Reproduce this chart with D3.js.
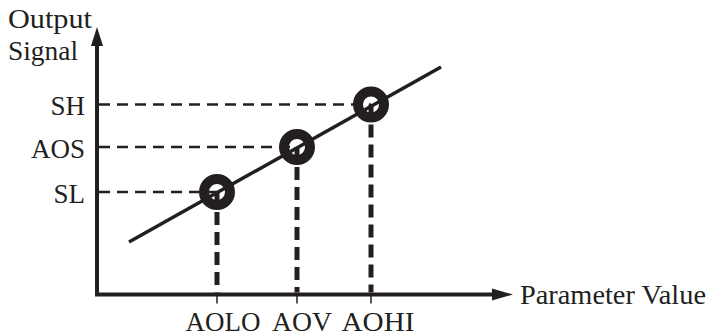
<!DOCTYPE html>
<html>
<head>
<meta charset="utf-8">
<script src="https://cdn.jsdelivr.net/npm/d3@7"></script>
<style>
  html, body { margin: 0; padding: 0; background: #fff; }
  svg { display: block; }
  text { font-family: "Liberation Serif", "Times New Roman", serif; fill: #231f20; }
</style>
</head>
<body>
<div id="chart"></div>
<script>
// set points on the parameter axis and output axis
const xLabels = ["AOLO", "AOV", "AOHI"];
const xValues = [30, 50, 68.5];
const yLabels = ["SL", "AOS", "SH"];
const yValues = [41, 59, 76];

// the straight response line (two ends)
const lineX = [8, 86];
const lineY = [21, 91];

const xTitle = "Parameter Value";
const yTitle = ["Output", "Signal"];

const width = 708;
const height = 336;
const ink = "#231f20";

const svg = d3
  .select("#chart")
  .append("svg")
  .attr("width", width)
  .attr("height", height);

const xScale = d3.scaleLinear().domain([0, 100]).range([97, 497]);
const yScale = d3.scaleLinear().domain([0, 100]).range([294.5, 44.5]);

const x0 = xScale(0);
const y0 = yScale(0);
const xEnd = xScale(104); // arrow tip
const yEnd = yScale(107); // arrow tip

// axes with arrow heads
svg
  .append("path")
  .attr("d", `M${x0},${yEnd + 16} V${y0} H${xEnd - 18}`)
  .attr("fill", "none")
  .attr("stroke", ink)
  .attr("stroke-width", 4)
  .attr("stroke-linejoin", "miter");

svg
  .append("path")
  .attr("d", `M${x0},${yEnd} L${x0 + 6},${yEnd + 19} L${x0 - 6},${yEnd + 19} Z`)
  .attr("fill", ink);

svg
  .append("path")
  .attr("d", `M${xEnd},${y0} L${xEnd - 21},${y0 - 6} L${xEnd - 21},${y0 + 6} Z`)
  .attr("fill", ink);

// small ticks under the x axis
svg
  .append("g")
  .selectAll("line")
  .data(xValues)
  .join("line")
  .attr("x1", (d) => xScale(d))
  .attr("x2", (d) => xScale(d))
  .attr("y1", y0)
  .attr("y2", y0 + 9)
  .attr("stroke", ink)
  .attr("stroke-width", 1.5);

// horizontal dashed guides
svg
  .append("g")
  .selectAll("line")
  .data(yValues)
  .join("line")
  .attr("x1", x0 + 2)
  .attr("x2", (d, i) => xScale(xValues[i]))
  .attr("y1", (d) => yScale(d))
  .attr("y2", (d) => yScale(d))
  .attr("stroke", ink)
  .attr("stroke-width", 2.5)
  .attr("stroke-dasharray", "11,7");

// vertical dashed guides
svg
  .append("g")
  .selectAll("line")
  .data(xValues)
  .join("line")
  .attr("x1", (d) => xScale(d))
  .attr("x2", (d) => xScale(d))
  .attr("y1", (d, i) => yScale(yValues[i]))
  .attr("y2", y0 - 2)
  .attr("stroke", ink)
  .attr("stroke-width", 5)
  .attr("stroke-dasharray", "13,7");

// response line
svg
  .append("line")
  .attr("x1", xScale(lineX[0]))
  .attr("y1", yScale(lineY[0]))
  .attr("x2", xScale(lineX[1]))
  .attr("y2", yScale(lineY[1]))
  .attr("stroke", ink)
  .attr("stroke-width", 3.5);

// ring markers
svg
  .append("g")
  .selectAll("circle")
  .data(xValues)
  .join("circle")
  .attr("cx", (d) => xScale(d))
  .attr("cy", (d, i) => yScale(yValues[i]))
  .attr("r", 13)
  .attr("fill", "none")
  .attr("stroke", ink)
  .attr("stroke-width", 10);

// labels
const fontSize = 27;
const xLabelWidths = [75, 60, 73];
const xLabelShift = [6, 5, 7];

svg
  .append("g")
  .selectAll("text")
  .data(xLabels)
  .join("text")
  .attr("x", (d, i) => xScale(xValues[i]) + xLabelShift[i])
  .attr("y", 331)
  .attr("text-anchor", "middle")
  .attr("font-size", fontSize)
  .attr("textLength", (d, i) => xLabelWidths[i])
  .attr("lengthAdjust", "spacingAndGlyphs")
  .text((d) => d);

svg
  .append("g")
  .selectAll("text")
  .data(yLabels)
  .join("text")
  .attr("x", 85)
  .attr("y", (d, i) => yScale(yValues[i]) + 10.5)
  .attr("text-anchor", "end")
  .attr("font-size", fontSize)
  .text((d) => d);

svg
  .append("text")
  .attr("x", 520)
  .attr("y", 304)
  .attr("font-size", fontSize)
  .attr("textLength", 186)
  .attr("lengthAdjust", "spacingAndGlyphs")
  .text(xTitle);

svg
  .append("g")
  .selectAll("text")
  .data(yTitle)
  .join("text")
  .attr("x", 8)
  .attr("y", (d, i) => 28 + i * 32)
  .attr("font-size", 28)
  .attr("textLength", (d, i) => [84, 70][i])
  .attr("lengthAdjust", "spacingAndGlyphs")
  .text((d) => d);
</script>
</body>
</html>
